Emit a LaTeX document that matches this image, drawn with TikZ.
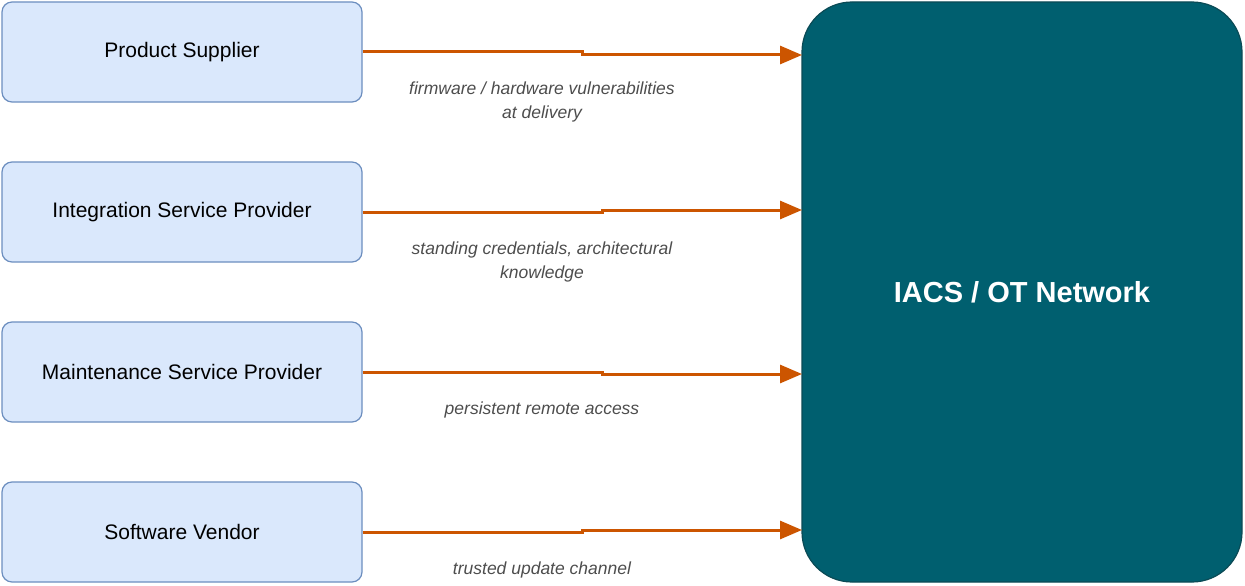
\documentclass[tikz,border=0pt]{standalone}
\usepackage{fontspec}
\setmainfont{Liberation Sans}
\usetikzlibrary{arrows.meta}
\definecolor{boxfill}{HTML}{DAE8FC}
\definecolor{boxline}{HTML}{6C8EBF}
\definecolor{netfill}{HTML}{005F6F}
\definecolor{netline}{HTML}{0B4A55}
\definecolor{arr}{HTML}{CC5500}
\definecolor{lbl}{HTML}{4D4D4D}
\begin{document}
\begin{tikzpicture}[x=1pt,y=-1pt,
  src/.style={draw=boxline,fill=boxfill,rounded corners=10pt,line width=1.2pt,minimum width=360pt,minimum height=100pt,font=\fontsize{21}{25}\selectfont,inner sep=0pt},
  flow/.style={draw=arr,line width=3pt,-{Triangle[length=22pt,width=18pt]}},
  lab/.style={text=lbl,font=\fontsize{17.5}{24}\selectfont\itshape,align=center}]
\useasboundingbox (0,0) rectangle (1245,586);
\node[src] (a) at (182,52) {Product Supplier};
\node[src] (b) at (182,212) {Integration Service Provider};
\node[src] (c) at (182,372) {Maintenance Service Provider};
\node[src] (d) at (182,532) {Software Vendor};
\node[draw=netline,fill=netfill,rounded corners=50pt,line width=1.2pt,minimum width=440pt,minimum height=580pt,text=white,font=\fontsize{29}{34}\selectfont\bfseries] (n) at (1022,292) {IACS / OT Network};
\coordinate (ta) at (802,55); \coordinate (tb) at (802,210);
\coordinate (tc) at (802,374); \coordinate (td) at (802,530);
\draw[flow] (a.east) -- (582,52) -- (582,55) -- (ta);
\draw[flow] (b.east) -- (602,212) -- (602,210) -- (tb);
\draw[flow] (c.east) -- (602,372) -- (602,374) -- (tc);
\draw[flow] (d.east) -- (582,532) -- (582,530) -- (td);
\node[lab] (la) at (542,102) {firmware / hardware vulnerabilities\\at delivery};
\node[lab] (lb) at (542,262) {standing credentials, architectural\\knowledge};
\node[lab] (lc) at (542,410) {persistent remote access};
\node[lab] (ld) at (542,570) {trusted update channel};
\end{tikzpicture}
\end{document}
